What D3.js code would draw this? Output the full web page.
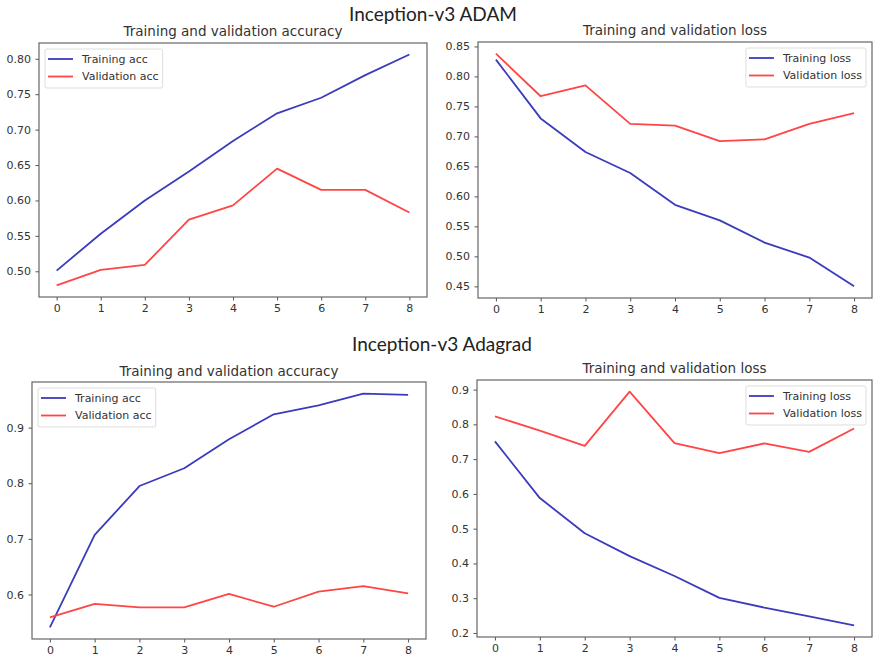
<!DOCTYPE html>
<html><head><meta charset="utf-8">
<script src="https://cdn.jsdelivr.net/npm/d3@7"></script>
<style>body{margin:0;background:#fff}svg{display:block}</style>
</head><body><svg id="c" width="874" height="663"></svg>
<script>
// ---- data ----
const epochs = [0, 1, 2, 3, 4, 5, 6, 7, 8];
const xTickLabels = ["0", "1", "2", "3", "4", "5", "6", "7", "8"];

const adamTrainAcc = [0.501, 0.553, 0.600, 0.641, 0.684, 0.723, 0.745, 0.777, 0.806];
const adamValAcc   = [0.480, 0.502, 0.509, 0.573, 0.593, 0.645, 0.615, 0.615, 0.583];
const adamTrainLoss = [0.828, 0.730, 0.674, 0.639, 0.586, 0.560, 0.523, 0.498, 0.450];
const adamValLoss   = [0.838, 0.767, 0.785, 0.721, 0.718, 0.692, 0.695, 0.721, 0.739];

const adagradTrainAcc = [0.541, 0.707, 0.795, 0.827, 0.879, 0.924, 0.940, 0.961, 0.959];
const adagradValAcc   = [0.559, 0.583, 0.577, 0.577, 0.601, 0.578, 0.605, 0.615, 0.602];
const adagradTrainLoss = [0.751, 0.588, 0.487, 0.421, 0.364, 0.301, 0.273, 0.248, 0.222];
const adagradValLoss   = [0.823, 0.782, 0.738, 0.894, 0.746, 0.717, 0.745, 0.721, 0.788];

const adamAccTicks = [0.50, 0.55, 0.60, 0.65, 0.70, 0.75, 0.80];
const adamLossTicks = [0.45, 0.50, 0.55, 0.60, 0.65, 0.70, 0.75, 0.80, 0.85];
const adagradAccTicks = [0.6, 0.7, 0.8, 0.9];
const adagradLossTicks = [0.2, 0.3, 0.4, 0.5, 0.6, 0.7, 0.8, 0.9];

const mainTitles = ["Inception-v3 ADAM", "Inception-v3 Adagrad"];
const accTitle = "Training and validation accuracy";
const lossTitle = "Training and validation loss";
const accLabels = ["Training acc", "Validation acc"];
const lossLabels = ["Training loss", "Validation loss"];

// ---- style ----
const BLUE = "#3b3bbd", RED = "#ff4545";
const svg = d3.select("#c");
const FONT = "DejaVu Sans, sans-serif";

function panel(cfg) {
  const g = svg.append("g");
  const x = d3.scaleLinear().domain([-0.4, 8.4]).range([cfg.l, cfg.r]);
  const all = cfg.series.flatMap(s => s.values);
  const ext = d3.extent(all), pad = (ext[1] - ext[0]) * 0.05;
  const y = d3.scaleLinear().domain([ext[0] - pad, ext[1] + pad]).range([cfg.b, cfg.t]);

  const xa = g.append("g").attr("transform", `translate(0,${cfg.b})`)
    .call(d3.axisBottom(x).tickValues(epochs).tickSize(3.5).tickPadding(4)
      .tickFormat((d, i) => xTickLabels[i]));
  const ya = g.append("g").attr("transform", `translate(${cfg.l},0)`)
    .call(d3.axisLeft(y).tickValues(cfg.ticks).tickSize(3.5).tickPadding(4.5)
      .tickFormat(d3.format(cfg.fmt)));
  [xa, ya].forEach(a => {
    a.select(".domain").remove();
    a.selectAll("line").attr("stroke", "#555").attr("stroke-width", 1);
    a.selectAll("text").attr("font-family", FONT).attr("font-size", 11).attr("fill", "#333");
  });

  const line = d3.line().x((d, i) => x(epochs[i])).y(d => y(d));
  cfg.series.forEach(s => {
    g.append("path").attr("d", line(s.values)).attr("fill", "none")
      .attr("stroke", s.color).attr("stroke-width", 1.8).attr("stroke-linejoin", "round");
  });

  g.append("rect").attr("x", cfg.l).attr("y", cfg.t)
    .attr("width", cfg.r - cfg.l).attr("height", cfg.b - cfg.t)
    .attr("fill", "none").attr("stroke", "#666").attr("stroke-width", 1.2);

  g.append("text").attr("x", (cfg.l + cfg.r) / 2).attr("y", cfg.titleY)
    .attr("text-anchor", "middle").attr("font-family", FONT).attr("font-size", 13.5)
    .attr("fill", "#333").text(cfg.title);

  // legend
  const lg = g.append("g");
  const box = lg.append("rect").attr("rx", 2).attr("fill", "#fff")
    .attr("stroke", "#ddd").attr("stroke-width", 1);
  const texts = [];
  cfg.series.forEach((s, i) => {
    const yy = cfg.t + 16 + i * 17.5;
    lg.append("line").attr("class", "ls").attr("y1", yy).attr("y2", yy)
      .attr("stroke", s.color).attr("stroke-width", 1.8);
    texts.push(lg.append("text").attr("y", yy).attr("dy", "0.35em")
      .attr("font-family", FONT).attr("font-size", 11).attr("fill", "#333").text(s.label));
  });
  const tw = d3.max(texts, t => t.node().getComputedTextLength());
  const bw = 36 + tw + 5, bh = 39;
  const bx = cfg.legend === "left" ? cfg.l + 6 : cfg.r - 6 - bw;
  box.attr("x", bx).attr("y", cfg.t + 6).attr("width", bw).attr("height", bh);
  lg.selectAll(".ls").attr("x1", bx + 3).attr("x2", bx + 28);
  texts.forEach(t => t.attr("x", bx + 37));
}

panel({ l: 39, r: 427, t: 43, b: 297, ticks: adamAccTicks, fmt: ".2f", title: accTitle, titleY: 36, legend: "left",
  series: [{ values: adamTrainAcc, color: BLUE, label: accLabels[0] }, { values: adamValAcc, color: RED, label: accLabels[1] }] });
panel({ l: 478, r: 872, t: 42, b: 298, ticks: adamLossTicks, fmt: ".2f", title: lossTitle, titleY: 35, legend: "right",
  series: [{ values: adamTrainLoss, color: BLUE, label: lossLabels[0] }, { values: adamValLoss, color: RED, label: lossLabels[1] }] });
panel({ l: 32, r: 426, t: 382, b: 639, ticks: adagradAccTicks, fmt: ".1f", title: accTitle, titleY: 376, legend: "left",
  series: [{ values: adagradTrainAcc, color: BLUE, label: accLabels[0] }, { values: adagradValAcc, color: RED, label: accLabels[1] }] });
panel({ l: 477, r: 872, t: 380, b: 637, ticks: adagradLossTicks, fmt: ".1f", title: lossTitle, titleY: 373, legend: "right",
  series: [{ values: adagradTrainLoss, color: BLUE, label: lossLabels[0] }, { values: adagradValLoss, color: RED, label: lossLabels[1] }] });

svg.append("text").attr("x", 433).attr("y", 21).attr("text-anchor", "middle")
  .attr("font-family", "Lato, sans-serif").attr("font-size", 19).attr("fill", "#222").text(mainTitles[0]);
svg.append("text").attr("x", 442).attr("y", 351).attr("text-anchor", "middle")
  .attr("font-family", "Lato, sans-serif").attr("font-size", 19).attr("fill", "#222").text(mainTitles[1]);
</script></body></html>
